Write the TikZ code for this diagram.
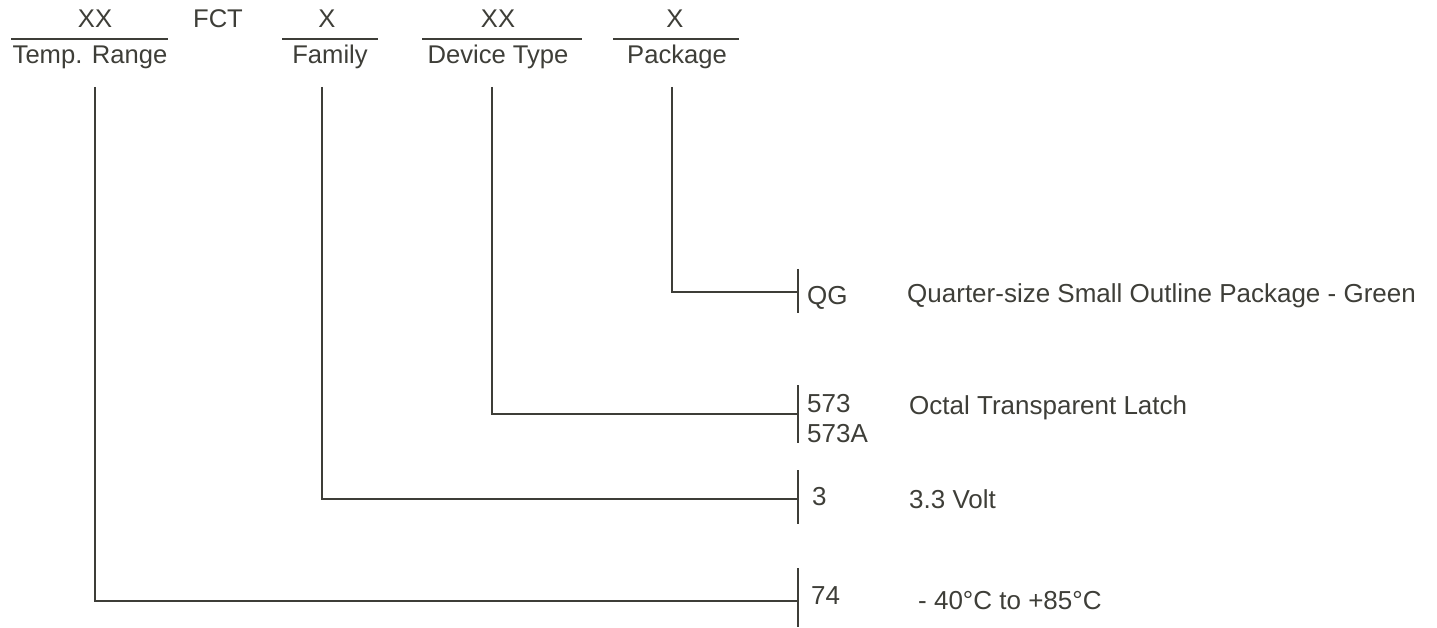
\documentclass[tikz,border=0pt]{standalone}
\usepackage{fontspec}
\setmainfont{Liberation Sans}
\definecolor{ink}{RGB}{62,62,56}
\begin{document}
\begin{tikzpicture}[x=1pt,y=-1pt,
  lbl/.style={inner sep=0pt,anchor=base,text=ink,font=\fontsize{25.6}{30}\selectfont},
  lblw/.style={lbl,anchor=base west,font=\fontsize{26}{30}\selectfont},
  ln/.style={draw=ink,line width=2.9pt},
  bar/.style={draw=ink,line width=2.9pt}]
\useasboundingbox (0,0) rectangle (1437,628);
% header
\node[lbl] (xx1) at (95,28) {XX};
\node[lbl] (fct) at (218,28) {FCT};
\node[lbl] (x2) at (327,28) {X};
\node[lbl] (xx3) at (498,28) {XX};
\node[lbl] (x4) at (675,28) {X};
\node[lbl] (tr) at (90,64) {Temp. Range};
\node[lbl] (fam) at (330,64) {Family};
\node[lbl] (dev) at (498,64) {Device Type};
\node[lbl] (pkg) at (677,64) {Package};
\draw[ln] (11,39) -- (168,39);
\draw[ln] (282,39) -- (378,39);
\draw[ln] (422,39) -- (582,39);
\draw[ln] (613,39) -- (739,39);
% connector start points
\coordinate (t1) at (95,87);
\coordinate (t2) at (322,87);
\coordinate (t3) at (492,87);
\coordinate (t4) at (672,87);
% bars
\coordinate (bq) at (798,292);
\coordinate (bd) at (798,414);
\coordinate (bf) at (798,499);
\coordinate (bt) at (798,601);
\draw[bar] (798,269) -- (798,313);
\draw[bar] (798,385) -- (798,443);
\draw[bar] (798,470) -- (798,524);
\draw[bar] (798,568) -- (798,627);
% connectors
\draw[ln] (t4) |- (bq);
\draw[ln] (t3) |- (bd);
\draw[ln] (t2) |- (bf);
\draw[ln] (t1) |- (bt);
% codes
\node[lblw] (qg) at (807,304) {QG};
\node[lblw] (c573) at (807,412) {573};
\node[lblw] (c573a) at (807,442) {573A};
\node[lblw] (c3) at (812,505) {3};
\node[lblw] (c74) at (811,604) {74};
% descriptions
\node[lblw] (dq) at (907,302) {Quarter-size Small Outline Package - Green};
\node[lblw] (dd) at (909,414) {Octal Transparent Latch};
\node[lblw] (df) at (909,508) {3.3 Volt};
\node[lblw] (dt) at (918,609) {- 40°C to +85°C};
\end{tikzpicture}
\end{document}
